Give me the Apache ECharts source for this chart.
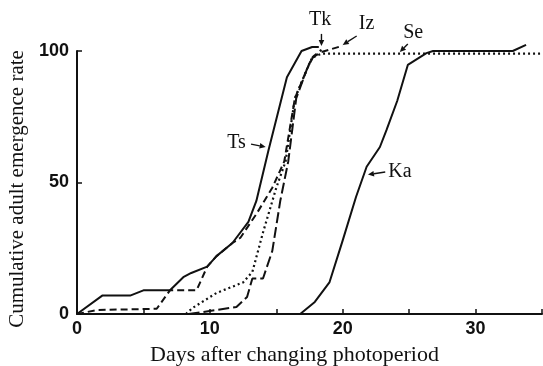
<!DOCTYPE html>
<html>
<head>
<meta charset="utf-8" />
<script src="https://cdn.jsdelivr.net/npm/echarts@6/dist/echarts.min.js"></script>
<title>emergence</title>
</head>
<body style="margin:0; background:#fff;">
<div id="main" style="width:543px; height:366px;"></div>
<script type="text/javascript">
    // days after changing photoperiod, cumulative emergence (%)
    const ts = [[0,0],[1.9,7],[4,7],[5,9],[7,9],[8,14],[8.6,15.6],[9.8,18],[10.5,22],[11.7,27],[12.9,35],[13.5,43],[14.4,62],[15.8,90],[16.9,100],[17.7,101.5],[18.2,101.5]];
    const iz = [[0,0],[1.5,1.5],[6,2],[7,9],[9,9],[9.8,18],[10.5,22],[11.7,27],[12.3,29],[13.5,38],[14.7,48],[15.6,58],[16.4,82],[17.3,93],[17.7,97.5],[18.4,99.6],[20,102]];
    const tk = [[8.4,0],[10.5,1.5],[12,2.7],[12.8,6.5],[13.2,13.5],[14,13.5],[14.7,24],[15.3,43],[15.9,58],[16.5,82],[17.3,93],[17.8,98],[18.4,100.5]];
    const se = [[8.2,0],[8.7,2.3],[10.5,8],[12.5,12],[13.2,16],[14,31],[15,48],[15.7,58],[16.4,82],[17.3,93],[17.7,97.5],[18.4,99],[35,99]];
    const ka = [[16.8,0],[17.9,4.6],[19,12],[20,28],[21,44.5],[21.8,56],[22.8,63.5],[23.3,70],[24.1,81],[24.9,94.7],[26.3,99.2],[26.8,100],[32.8,100],[33.8,102.3]];

    // curve labels with pointer arrows (data coords)
    const labelNames = ['Ts', 'Tk', 'Iz', 'Se', 'Ka'];
    const labelAt = [[12.0,65],[18.3,112],[21.8,110.5],[25.3,107],[24.3,54]];
    const arrowFrom = [[13.1,64.6],[18.4,106.5],[21.05,105.7],[24.9,102.7],[23.2,54]];
    const arrowTo = [[14.2,63.5],[18.4,101.9],[20.0,102.3],[24.3,99.6],[21.9,53]];

    const serif = '"Liberation Serif", "DejaVu Serif", serif';
    const ink = '#111';

    let myChart = echarts.init(document.getElementById('main'), null, {renderer: 'canvas'});

    function curve(name, data, type, width) {
        return {
            name: name,
            type: 'line',
            data: data,
            symbol: 'none',
            clip: false,
            silent: true,
            lineStyle: {color: ink, width: width, type: type}
        };
    }

    option = {
        animation: false,
        grid: {left: 77, right: 1, top: 51, bottom: 52, containLabel: false, outerBoundsMode: 'none'},
        xAxis: {
            type: 'value',
            min: 0,
            max: 35,
            interval: 5,
            name: 'Days after changing photoperiod',
            nameLocation: 'middle',
            nameGap: 30,
            nameTextStyle: {fontFamily: serif, fontSize: 22, color: ink, padding: [0, 30, 0, 0]},
            axisLine: {lineStyle: {color: ink, width: 2}},
            axisTick: {inside: true, length: 5, lineStyle: {color: ink, width: 1.5}},
            axisLabel: {
                color: ink,
                fontFamily: '"Liberation Sans", sans-serif',
                fontWeight: 'bold',
                fontSize: 18,
                margin: 6,
                formatter: v => (v % 10 === 0 && v < 35) ? String(v) : ''
            },
            splitLine: {show: false}
        },
        yAxis: {
            type: 'value',
            min: 0,
            max: 100,
            interval: 50,
            name: 'Cumulative adult emergence rate',
            nameLocation: 'middle',
            nameGap: 48,
            nameTextStyle: {fontFamily: serif, fontSize: 21, color: ink, padding: [0, 13, 0, 0]},
            axisLine: {lineStyle: {color: ink, width: 2}},
            axisTick: {inside: true, length: 5, lineStyle: {color: ink, width: 1.5}},
            axisLabel: {
                color: ink,
                fontFamily: '"Liberation Sans", sans-serif',
                fontWeight: 'bold',
                fontSize: 18,
                margin: 8,
                padding: [12, 0, 0, 0]
            },
            splitLine: {show: false}
        },
        series: [
            curve('Ts', ts, 'solid', 2),
            curve('Tk', tk, [11, 4], 2),
            curve('Iz', iz, [7, 4], 2),
            curve('Se', se, [2, 3], 2.2),
            curve('Ka', ka, 'solid', 2)
        ]
    };
    myChart.setOption(option);

    // labels may sit above the y range, so draw them as graphics
    let graphics = [];
    labelNames.forEach((n, i) => {
        let t = myChart.convertToPixel({gridIndex: 0}, labelAt[i]);
        let a = myChart.convertToPixel({gridIndex: 0}, arrowFrom[i]);
        let b = myChart.convertToPixel({gridIndex: 0}, arrowTo[i]);
        let dx = b[0] - a[0], dy = b[1] - a[1];
        let len = Math.sqrt(dx * dx + dy * dy);
        let ux = dx / len, uy = dy / len;
        let hl = 6, hw = 2.8;
        let bx = b[0] - ux * hl, by = b[1] - uy * hl;
        graphics.push({
            type: 'text', silent: true,
            style: {x: t[0], y: t[1], text: n, align: 'center', verticalAlign: 'middle',
                    fill: ink, font: '20px ' + serif}
        });
        graphics.push({
            type: 'line', silent: true,
            shape: {x1: a[0], y1: a[1], x2: bx, y2: by},
            style: {stroke: ink, lineWidth: 1.4}
        });
        graphics.push({
            type: 'polygon', silent: true,
            shape: {points: [[b[0], b[1]], [bx - uy * hw, by + ux * hw], [bx + uy * hw, by - ux * hw]]},
            style: {fill: ink}
        });
    });
    myChart.setOption({graphic: graphics});
</script>
</body>
</html>
